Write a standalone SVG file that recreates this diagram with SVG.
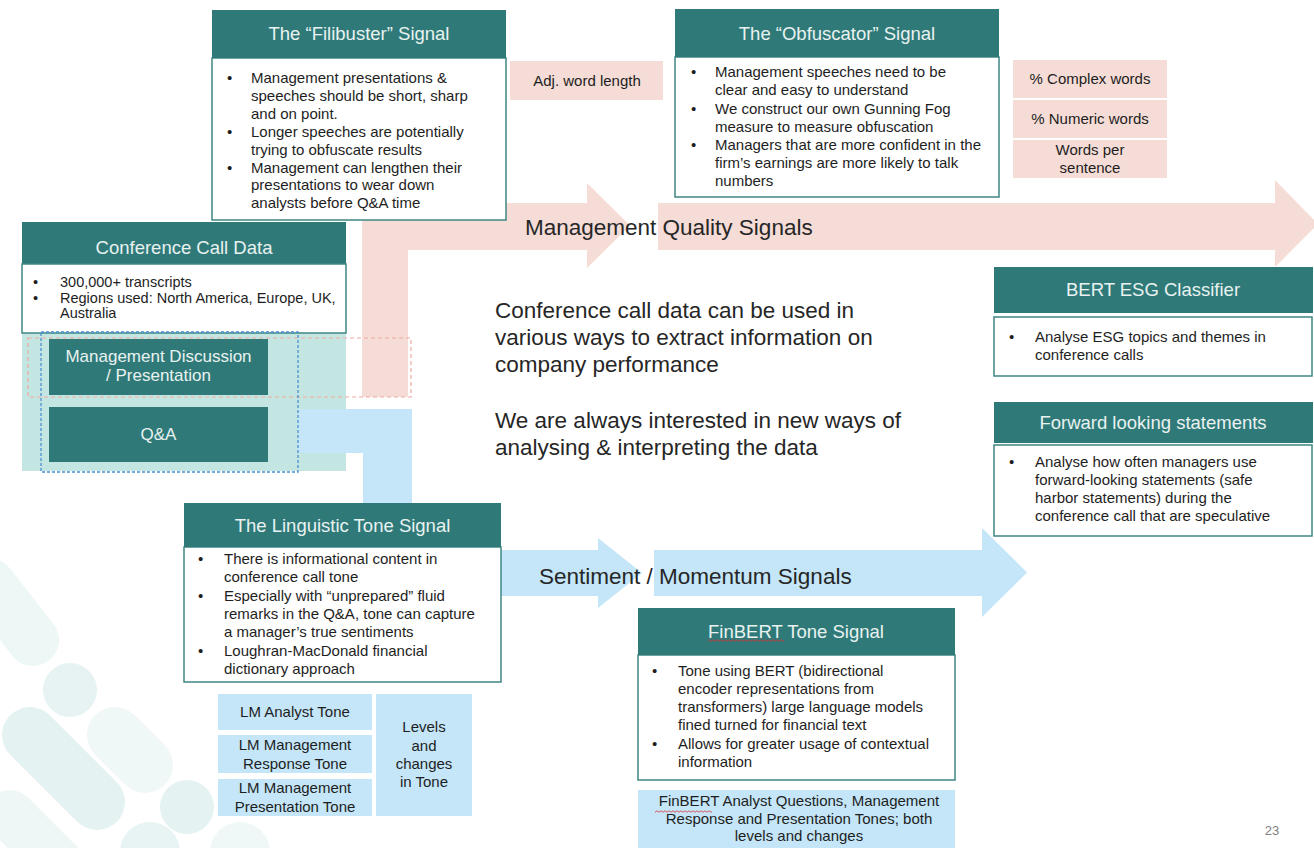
<svg xmlns="http://www.w3.org/2000/svg" width="1314" height="848" viewBox="0 0 1314 848">
<defs>
<style>
.hdr{fill:#2F7A79}
.hdrt{font-family:"Liberation Sans",Arial,sans-serif;font-size:18.5px;fill:#E9F2F0;text-anchor:middle}
.bod{fill:#fff;stroke:#3E8784;stroke-width:1.5}
.t{font-family:"Liberation Sans",Arial,sans-serif;font-size:15px;fill:#1E1E1E}
.ts{font-family:"Liberation Sans",Arial,sans-serif;font-size:14.5px;fill:#1E1E1E}
.tc{text-anchor:middle}
.big{font-family:"Liberation Sans",Arial,sans-serif;font-size:22.5px;fill:#262626}
.pk{fill:#F5DCD6}
.bl{fill:#C4E6F8}
.tb{fill:#2F7A79}
.tbt{font-family:"Liberation Sans",Arial,sans-serif;font-size:17px;fill:#E9F2F0;text-anchor:middle}
.deco{stroke-linecap:round;fill:none}
</style>
<pattern id="wave" x="0" y="0" width="4" height="3" patternUnits="userSpaceOnUse">
<path d="M0 1.5 Q1 0 2 1.5 T4 1.5" fill="none" stroke="#E03030" stroke-width="0.8"/>
</pattern>
</defs>
<rect x="0" y="0" width="1314" height="848" fill="#fff"/>
<g id="decoration">
<line class="deco" x1="-10" y1="585" x2="33" y2="640" stroke="#EDF7F6" stroke-width="52"/>
<circle cx="70" cy="690" r="27" fill="#E6F3F2"/>
<line class="deco" x1="30" y1="735" x2="97" y2="802" stroke="#E4F2F1" stroke-width="56"/>
<line class="deco" x1="115" y1="735" x2="145" y2="765" stroke="#F0F8F7" stroke-width="56"/>
<circle cx="187" cy="807" r="27" fill="#E4F2F1"/>
<line class="deco" x1="10" y1="815" x2="60" y2="865" stroke="#EEF7F6" stroke-width="50"/>
<circle cx="150" cy="852" r="30" fill="#E8F4F3"/>
<circle cx="240" cy="852" r="30" fill="#F0F8F7"/>
</g>
<rect id="data-bg" x="22" y="264" width="324" height="207" fill="#C4E6E3"/>
<g id="connectors">
<polygon class="pk" points="362,397 362,203 587,203 587,183 630,225.5 587,268 587,250 408,250 408,397"/>
<polygon class="pk" points="658,203 1275,203 1275,180 1318,224 1275,267 1275,250 658,250"/>
<polygon class="bl" points="298,409 412,409 412,550 598,550 598,538 642,573 598,608 598,596 363,596 363,453 298,453"/>
<polygon class="bl" points="654,550 982,550 982,528 1027,572.5 982,617 982,596 654,596"/>
<text class="big" x="525" y="235">Management Quality Signals</text>
<text class="big" x="539" y="584">Sentiment / Momentum Signals</text>
</g>
<g id="filibuster">
<rect class="bod" x="212" y="58" width="294" height="162"/>
<rect class="hdr" x="212" y="10" width="294" height="48"/>
<text class="hdrt" x="359" y="40">The “Filibuster” Signal</text>
<text class="t" x="227" y="83">•</text>
<text class="t" x="251" y="83">Management presentations  &amp;</text>
<text class="t" x="251" y="101">speeches should be short, sharp</text>
<text class="t" x="251" y="119">and on point.</text>
<text class="t" x="227" y="137">•</text>
<text class="t" x="251" y="137">Longer speeches are potentially</text>
<text class="t" x="251" y="155">trying to obfuscate results</text>
<text class="t" x="227" y="173">•</text>
<text class="t" x="251" y="173">Management can lengthen their</text>
<text class="t" x="251" y="190">presentations to wear down</text>
<text class="t" x="251" y="208">analysts before Q&amp;A time</text>
</g>
<g id="adj-word-length">
<rect class="pk" x="510" y="61" width="153" height="39"/>
<text class="t tc" x="587" y="86">Adj. word length</text>
</g>
<g id="obfuscator">
<rect class="bod" x="675" y="57" width="324" height="140"/>
<rect class="hdr" x="675" y="9" width="324" height="48"/>
<text class="hdrt" x="837" y="40">The “Obfuscator” Signal</text>
<text class="t" x="691" y="77">•</text>
<text class="t" x="715" y="77">Management speeches need to be</text>
<text class="t" x="715" y="95">clear and easy to understand</text>
<text class="t" x="691" y="113.5">•</text>
<text class="t" x="715" y="113.5">We construct our own Gunning Fog</text>
<text class="t" x="715" y="131.5">measure to measure obfuscation</text>
<text class="t" x="691" y="150">•</text>
<text class="t" x="715" y="150">Managers that are more confident in the</text>
<text class="t" x="715" y="168">firm’s earnings are more likely to talk</text>
<text class="t" x="715" y="186">numbers</text>
</g>
<g id="obfuscator-measures">
<rect class="pk" x="1013" y="60" width="154" height="38"/>
<text class="t tc" x="1090" y="84">% Complex words</text>
<rect class="pk" x="1013" y="100" width="154" height="38"/>
<text class="t tc" x="1090" y="124">% Numeric words</text>
<rect class="pk" x="1013" y="140" width="154" height="38"/>
<text class="t tc" x="1090" y="155">Words per</text>
<text class="t tc" x="1090" y="173">sentence</text>
</g>
<g id="conference-call-data">
<rect class="hdr" x="22" y="222" width="324" height="42"/>
<text class="hdrt" x="184" y="254">Conference Call Data</text>
<rect class="bod" x="22" y="264" width="324" height="69"/>
<text class="ts" x="33" y="287">•</text>
<text class="ts" x="60" y="287">300,000+ transcripts</text>
<text class="ts" x="33" y="303">•</text>
<text class="ts" x="60" y="303">Regions used: North America, Europe, UK,</text>
<text class="ts" x="60" y="318">Australia</text>
</g>
<g id="management-discussion">
<rect class="tb" x="49" y="339" width="219" height="56"/>
<text class="tbt" x="158.5" y="362">Management Discussion</text>
<text class="tbt" x="158.5" y="381">/ Presentation</text>
</g>
<g id="qa">
<rect class="tb" x="49" y="407" width="219" height="55"/>
<text class="tbt" x="158.5" y="440">Q&amp;A</text>
</g>
<rect id="presentation-outline" x="28" y="338" width="383" height="59" fill="none" stroke="#F0A9A0" stroke-width="1.2" stroke-dasharray="4 3"/>
<rect id="sections-outline" x="41" y="332" width="257" height="140" fill="none" stroke="#4A8FD0" stroke-width="1.3" stroke-dasharray="3 2"/>
<g id="summary">
<text class="big" x="495" y="318">Conference call data can be used in</text>
<text class="big" x="495" y="345">various ways to extract information on</text>
<text class="big" x="495" y="372">company performance</text>
<text class="big" x="495" y="428">We are always interested in new ways of</text>
<text class="big" x="495" y="455">analysing &amp; interpreting the data</text>
</g>
<g id="bert-esg">
<rect class="hdr" x="994" y="267" width="319" height="46"/>
<text class="hdrt" x="1153" y="296">BERT ESG Classifier</text>
<rect class="bod" x="994" y="317" width="318" height="59"/>
<text class="t" x="1009" y="342">•</text>
<text class="t" x="1035" y="342">Analyse ESG topics and themes in</text>
<text class="t" x="1035" y="360">conference calls</text>
</g>
<g id="forward-looking">
<rect class="hdr" x="994" y="402" width="319" height="41"/>
<text class="hdrt" x="1153" y="429">Forward looking statements</text>
<rect class="bod" x="994" y="445" width="318" height="91"/>
<text class="t" x="1009" y="467">•</text>
<text class="t" x="1035" y="467">Analyse how often managers use</text>
<text class="t" x="1035" y="485">forward-looking statements (safe</text>
<text class="t" x="1035" y="503">harbor statements) during the</text>
<text class="t" x="1035" y="521">conference call that are speculative</text>
</g>
<g id="linguistic-tone">
<rect class="bod" x="184" y="547" width="317" height="135"/>
<rect class="hdr" x="184" y="503" width="317" height="44"/>
<text class="hdrt" x="342.5" y="532">The Linguistic Tone Signal</text>
<text class="t" x="198" y="564">•</text>
<text class="t" x="224" y="564">There is informational content in</text>
<text class="t" x="224" y="582">conference call tone</text>
<text class="t" x="198" y="600.5">•</text>
<text class="t" x="224" y="600.5">Especially with “unprepared” fluid</text>
<text class="t" x="224" y="619">remarks in the Q&amp;A, tone can capture</text>
<text class="t" x="224" y="637">a manager’s true sentiments</text>
<text class="t" x="198" y="655.5">•</text>
<text class="t" x="224" y="655.5">Loughran-MacDonald financial</text>
<text class="t" x="224" y="674">dictionary approach</text>
</g>
<g id="lm-tones">
<rect class="bl" x="218" y="694" width="154" height="36"/>
<text class="t tc" x="295" y="717">LM Analyst Tone</text>
<rect class="bl" x="218" y="735" width="154" height="38"/>
<text class="t tc" x="295" y="750">LM Management</text>
<text class="t tc" x="295" y="769">Response Tone</text>
<rect class="bl" x="218" y="779" width="154" height="37"/>
<text class="t tc" x="295" y="793">LM Management</text>
<text class="t tc" x="295" y="812">Presentation Tone</text>
</g>
<g id="lm-levels">
<rect class="bl" x="376" y="694" width="96" height="122"/>
<text class="t tc" x="424" y="732">Levels</text>
<text class="t tc" x="424" y="751">and</text>
<text class="t tc" x="424" y="769">changes</text>
<text class="t tc" x="424" y="787">in Tone</text>
</g>
<g id="finbert">
<rect class="bod" x="638" y="655" width="317" height="125"/>
<rect class="hdr" x="638" y="608" width="317" height="47"/>
<text class="hdrt" x="796" y="638">FinBERT Tone Signal</text>
<rect x="708" y="639" width="76" height="3" fill="url(#wave)"/>
<text class="t" x="652" y="676">•</text>
<text class="t" x="678" y="676">Tone using BERT (bidirectional</text>
<text class="t" x="678" y="694">encoder representations from</text>
<text class="t" x="678" y="712">transformers) large language models</text>
<text class="t" x="678" y="730">fined turned for financial text</text>
<text class="t" x="652" y="748.5">•</text>
<text class="t" x="678" y="748.5">Allows for greater usage of contextual</text>
<text class="t" x="678" y="767">information</text>
</g>
<g id="finbert-tones">
<rect class="bl" x="638" y="790" width="317" height="60"/>
<text class="t tc" x="799" y="806">FinBERT Analyst Questions, Management</text>
<text class="t tc" x="799" y="824">Response and Presentation Tones; both</text>
<text class="t tc" x="799" y="841">levels and changes</text>
<rect x="655" y="810" width="57" height="3" fill="url(#wave)"/>
</g>
<text id="page-number" x="1272" y="835" font-family="'Liberation Sans',Arial,sans-serif" font-size="13" fill="#808080" text-anchor="middle">23</text>
</svg>
